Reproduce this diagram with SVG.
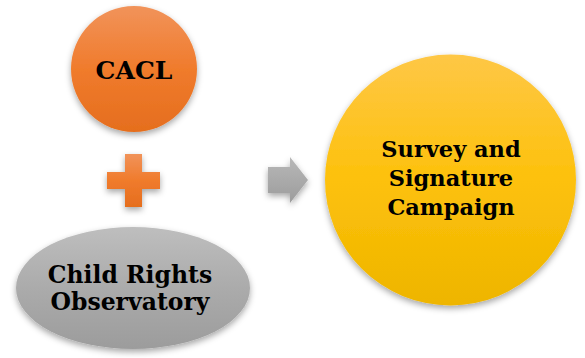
<svg xmlns="http://www.w3.org/2000/svg" width="585" height="358" viewBox="0 0 585 358">
<style>
.lbl{font-family:"DejaVu Serif","Liberation Serif",serif;font-weight:bold;fill:#000;text-anchor:middle}
</style>
<defs>
<linearGradient id="gOr" x1="0" y1="0" x2="0" y2="1"><stop offset="0" stop-color="#F1935A"/><stop offset="0.5" stop-color="#F07B2C"/><stop offset="1" stop-color="#E56E1E"/></linearGradient>
<linearGradient id="gGr" x1="0" y1="0" x2="0" y2="1"><stop offset="0" stop-color="#BEBEBE"/><stop offset="0.5" stop-color="#ABABAB"/><stop offset="1" stop-color="#9C9C9C"/></linearGradient>
<linearGradient id="gYe" x1="0" y1="0" x2="0" y2="1"><stop offset="0" stop-color="#FEC746"/><stop offset="0.5" stop-color="#FDC10B"/><stop offset="1" stop-color="#EEB500"/></linearGradient>
<linearGradient id="gAr" x1="0" y1="0" x2="0" y2="1"><stop offset="0" stop-color="#B8B8B8"/><stop offset="1" stop-color="#9C9C9C"/></linearGradient>
<filter id="sh" x="-20%" y="-20%" width="140%" height="150%"><feDropShadow dx="0" dy="3" stdDeviation="3" flood-color="#000" flood-opacity="0.35"/></filter>
</defs>
<g id="cacl">
<circle cx="134" cy="69" r="63" fill="url(#gOr)" filter="url(#sh)"/>
<text class="lbl" x="134" y="79" font-size="25">CACL</text>
</g>
<g id="plus">
<path d="M125,154 H142 V172 H160 V189 H142 V207 H125 V189 H107 V172 H125 Z" fill="url(#gOr)" filter="url(#sh)"/>
</g>
<g id="cro">
<ellipse cx="133" cy="288" rx="117" ry="61" fill="url(#gGr)" filter="url(#sh)"/>
<text class="lbl" x="130" y="283" font-size="23.5">Child Rights</text>
<text class="lbl" x="130" y="310" font-size="23.5">Observatory</text>
</g>
<g id="connectors">
<path d="M268,167 H290 V157 L308,180 L290,203 V193 H268 Z" fill="url(#gAr)" filter="url(#sh)"/>
</g>
<g id="survey">
<circle cx="450.5" cy="180" r="125.5" fill="url(#gYe)" filter="url(#sh)"/>
<text class="lbl" x="451" y="157" font-size="22.5">Survey and</text>
<text class="lbl" x="451" y="186" font-size="22.5">Signature</text>
<text class="lbl" x="451" y="215" font-size="22.5">Campaign</text>
</g>
</svg>
